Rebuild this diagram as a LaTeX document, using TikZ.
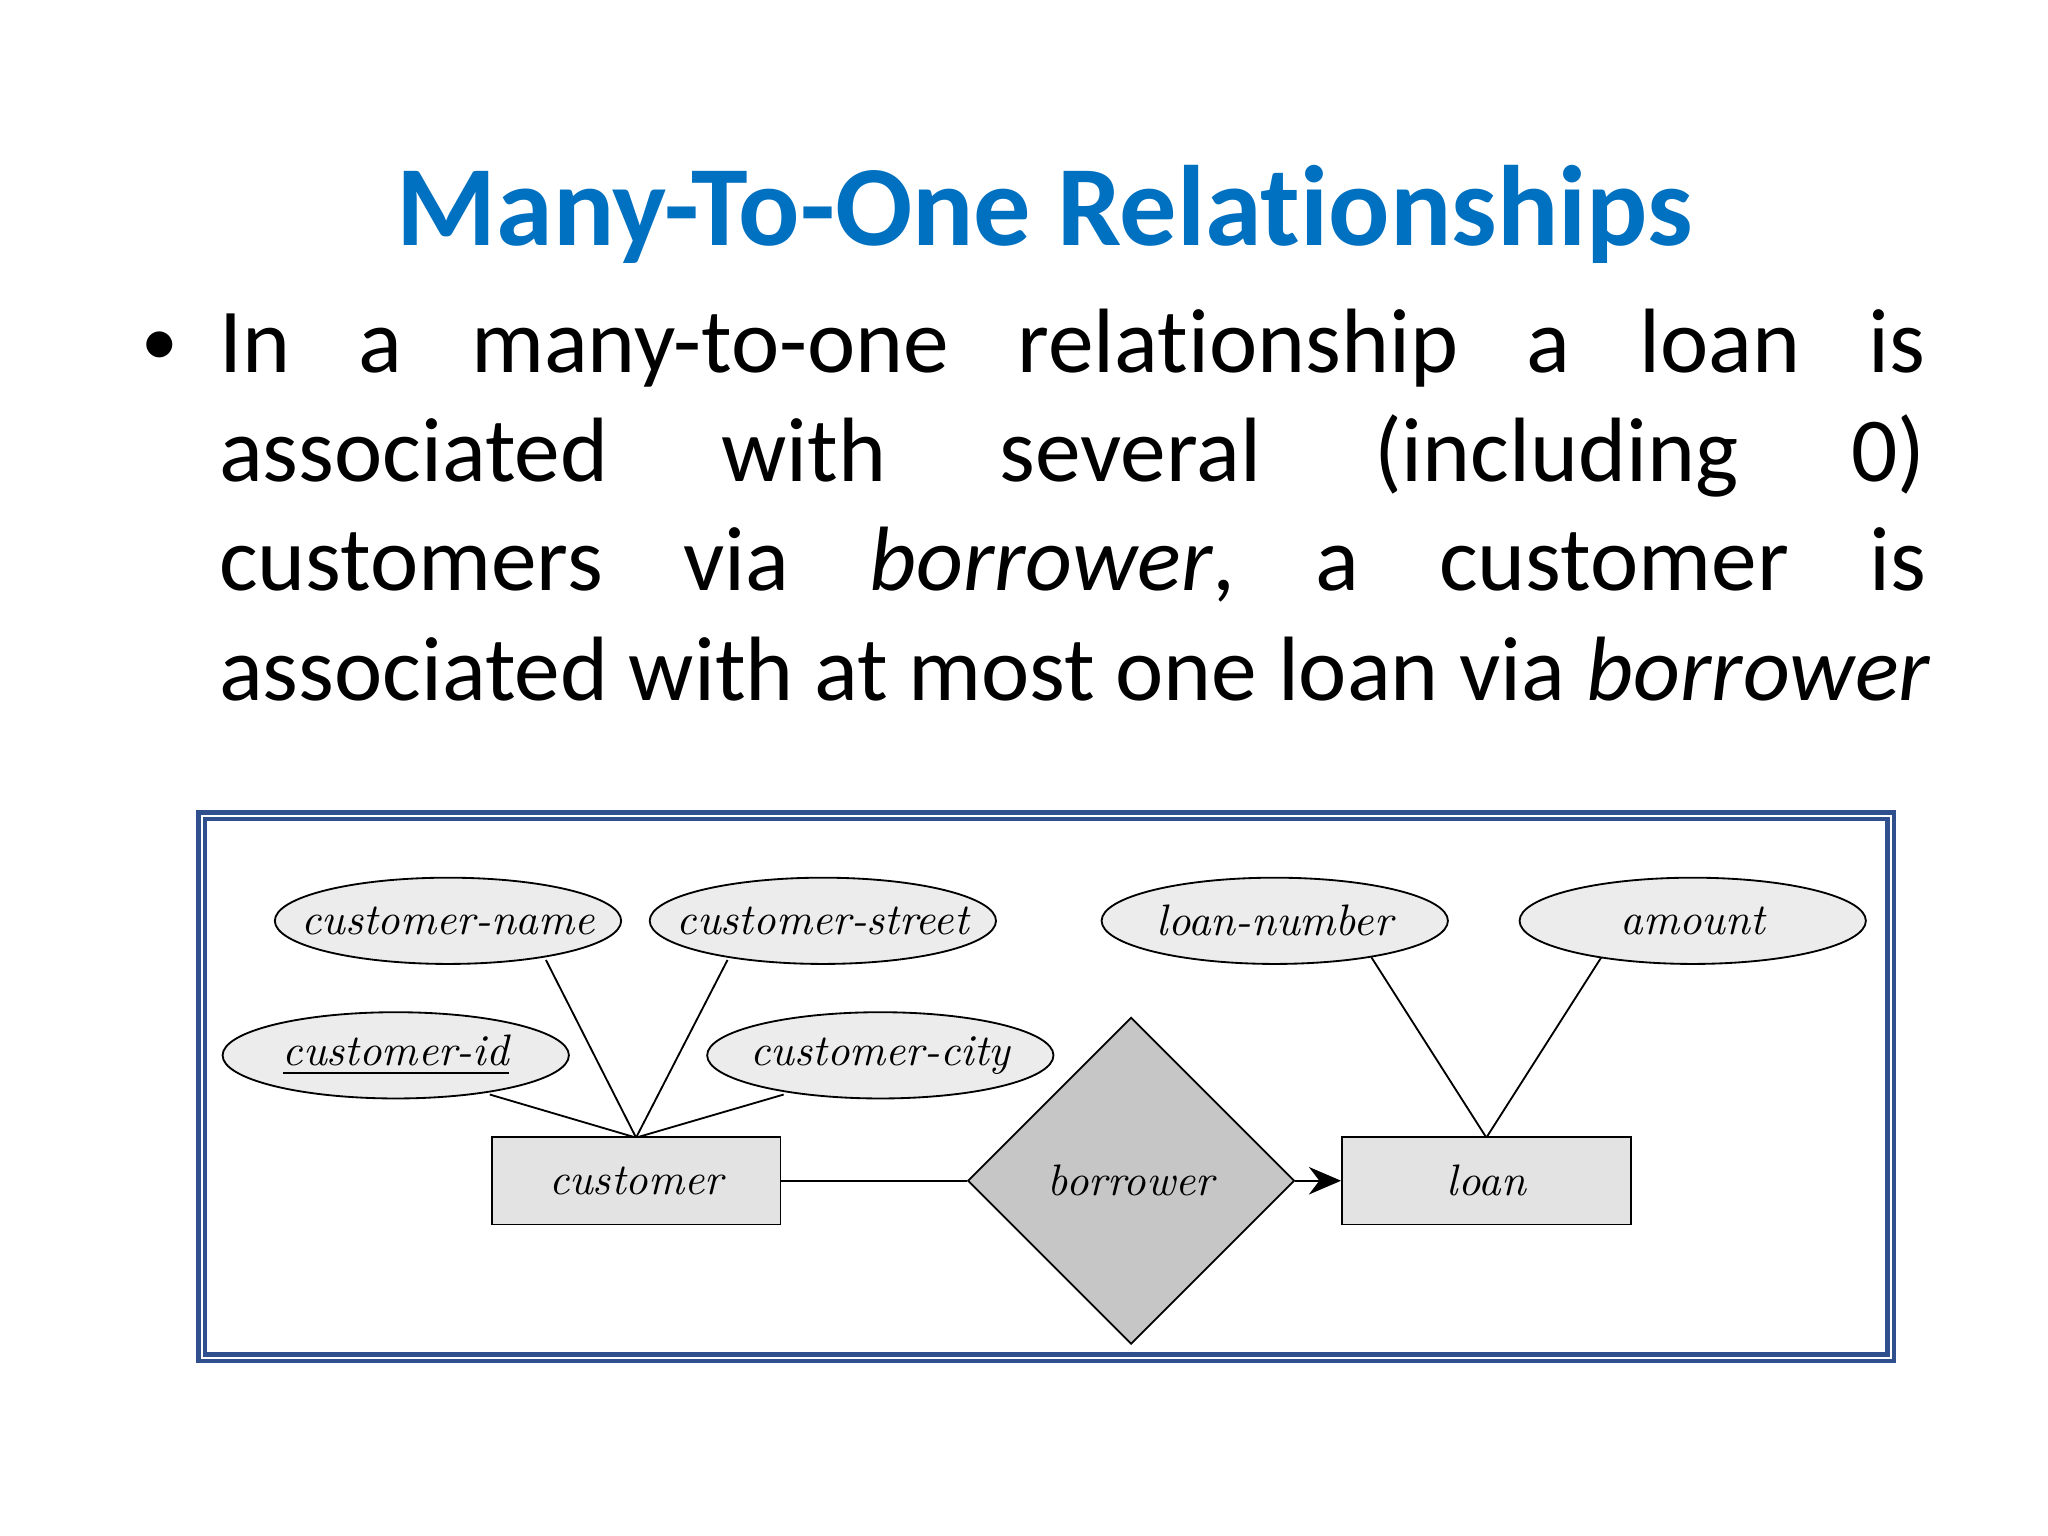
\documentclass[tikz,border=0pt]{standalone}
\usepackage{fontspec}
\setmainfont[RawFeature=-liga]{Carlito}
\usetikzlibrary{shapes.geometric,arrows.meta}
\newfontfamily\erfont{Latin Modern Roman}
\definecolor{titleblue}{HTML}{0070C0}
\definecolor{framecol}{HTML}{2F4F8F}
\begin{document}
\begin{tikzpicture}[x=0.01cm,y=-0.01cm,
  erf/.style={font=\erfont\itshape\fontsize{9.6}{11}\selectfont},
  attr/.style={draw,ellipse,fill=gray!15,minimum width=2.65cm,minimum height=0.66cm,inner xsep=-12pt,inner ysep=0pt,erf},
  ent/.style={draw,fill=gray!22,minimum width=2.21cm,minimum height=0.67cm,inner sep=0pt,erf},
  rel/.style={draw,diamond,fill=gray!45,minimum width=2.5cm,minimum height=2.5cm,inner sep=0pt,aspect=1,erf},
  ln/.style={draw,line width=0.4pt},
  body/.style={anchor=base west,inner sep=0pt,font=\fontsize{19.9}{23}\selectfont}]
\useasboundingbox[fill=white] (0,0) rectangle (1568,1176);
\node[font=\bfseries\fontsize{24.9}{28}\selectfont,text=titleblue] (title) at (800,164) {Many-To-One Relationships};
\node[body,font=\fontsize{16}{18}\selectfont] (bul) at (108,280) {•};
\node[body] (l1) at (167,285) {\hbox to 13.06cm{In\hfill a\hfill many-to-one\hfill relationship\hfill a\hfill loan\hfill is}};
\node[body] (l2) at (167,369) {\hbox to 13.06cm{associated\hfill with\hfill several\hfill (including\hfill 0)}};
\node[body] (l3) at (167,452) {\hbox to 13.06cm{customers\hfill via\hfill \textit{borrower},\hfill a\hfill customer\hfill is}};
\node[body] (l4) at (167,536) {\hbox to 13.06cm{associated with at most one loan via \textit{borrower}\hss}};
\draw[framecol,line width=1pt] (152,622) rectangle (1450,1042);
\draw[framecol,line width=1pt] (157,627) rectangle (1445,1037);
\coordinate (ct) at (487,871);
\coordinate (lt) at (1138,871);
\coordinate (pcn) at (418,735);
\coordinate (pcs) at (557,735);
\coordinate (pcid) at (375,838);
\coordinate (pcc) at (600,838);
\coordinate (pln) at (1050,733);
\coordinate (pam) at (1226,733);
\draw[ln] (ct) -- (pcn);
\draw[ln] (ct) -- (pcs);
\draw[ln] (ct) -- (pcid);
\draw[ln] (ct) -- (pcc);
\draw[ln] (lt) -- (pln);
\draw[ln] (lt) -- (pam);
\node[attr] (cn) at (343,705) {customer-name};
\node[attr] (cs) at (630,705) {customer-street};
\node[attr] (lnum) at (976,705) {loan-number};
\node[attr] (am) at (1296,705) {amount};
\node[attr] (cid) at (303,808) {\underline{customer-id}};
\node[attr] (cc) at (674,808) {customer-city};
\node[ent] (cust) at (487,904) {customer};
\node[ent] (loan) at (1138,904) {loan};
\node[rel] (bor) at (866,904) {borrower};
\draw[ln] (cust.east) -- (bor.west);
\draw[ln,-{Stealth[length=7pt,width=6pt]}] (bor.east) -- (loan.west);
\end{tikzpicture}
\end{document}
